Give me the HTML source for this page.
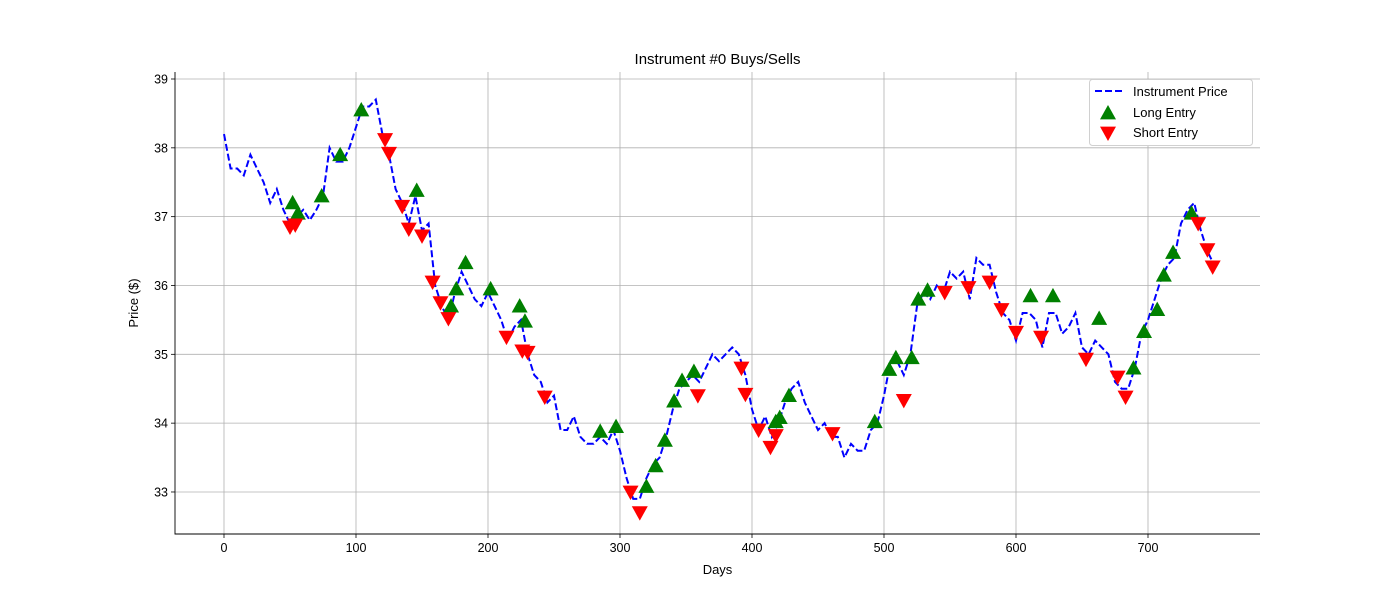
<!DOCTYPE html>
<html><head><meta charset="utf-8"><style>
body{margin:0;background:#fff;}
svg{display:block;font-family:"Liberation Sans","DejaVu Sans",sans-serif;}
</style></head><body>
<svg id="chart" width="1400" height="600"></svg>
<script>
const prices=[38.2,37.7,37.7,37.6,37.9,37.7,37.5,37.2,37.4,37.1,36.9,37.0,37.1,36.95,37.1,37.3,38.0,37.8,37.8,38.0,38.3,38.6,38.6,38.7,38.2,37.9,37.4,37.2,36.9,37.3,36.8,36.9,36.0,35.7,35.5,35.9,36.2,36.0,35.8,35.7,35.9,35.7,35.5,35.2,35.4,35.5,35.0,34.7,34.6,34.3,34.4,33.9,33.9,34.1,33.8,33.7,33.7,33.8,33.7,33.9,33.6,33.2,32.9,32.9,33.2,33.4,33.5,33.8,34.2,34.5,34.6,34.7,34.6,34.8,35.0,34.9,35.0,35.1,35.0,34.7,34.2,33.9,34.1,33.8,34.0,34.3,34.5,34.6,34.3,34.1,33.9,34.0,33.8,33.8,33.5,33.7,33.6,33.6,33.9,34.0,34.4,34.9,34.9,34.7,35.0,35.7,35.9,35.8,36.0,35.9,36.2,36.1,36.2,35.8,36.4,36.3,36.3,35.9,35.6,35.5,35.2,35.6,35.6,35.5,35.1,35.6,35.6,35.3,35.4,35.6,35.1,35.0,35.2,35.1,35.0,34.6,34.5,34.5,34.8,35.3,35.5,35.8,36.1,36.3,36.4,36.9,37.1,37.2,36.8,36.5,36.3];
const priceStep=5;
const longDays=[52,56,74,88,104,146,172,176,183,202,224,228,285,297,320,327,334,341,347,356,418,421,428,493,504,509,521,526,533,611,628,663,689,697,707,712,719,733];
const longPrices=[37.2,37.05,37.3,37.9,38.55,37.38,35.7,35.95,36.33,35.95,35.7,35.48,33.88,33.95,33.08,33.38,33.75,34.32,34.62,34.75,34.02,34.08,34.4,34.02,34.78,34.95,34.95,35.8,35.93,35.85,35.85,35.52,34.8,35.33,35.65,36.15,36.48,37.05];
const shortDays=[50,54,122,125,135,140,150,158,164,170,214,226,230,243,308,315,359,392,395,405,414,418,461,515,546,564,580,589,600,619,653,677,683,738,745,749];
const shortPrices=[36.85,36.88,38.12,37.92,37.15,36.82,36.72,36.05,35.75,35.52,35.25,35.05,35.03,34.38,33.0,32.7,34.4,34.8,34.42,33.9,33.65,33.82,33.85,34.33,35.9,35.97,36.05,35.65,35.32,35.25,34.93,34.67,34.38,36.9,36.52,36.27];
const xTicks=[0,100,200,300,400,500,600,700];
const yTicks=[33,34,35,36,37,38,39];

const NS="http://www.w3.org/2000/svg";
const svg=document.getElementById('chart');
const L=175,R=1260,T=72,B=534;
const xs=d=>224+d*1.32;
const ys=v=>79+(39-v)*68.83;
function mk(tag,attrs,parent){const e=document.createElementNS(NS,tag);for(const k in attrs)e.setAttribute(k,attrs[k]);(parent||svg).appendChild(e);return e;}

const grid=mk('g',{});


xTicks.forEach(t=>{
  mk('line',{x1:xs(t),x2:xs(t),y1:T,y2:B,stroke:'#b0b0b0','stroke-width':0.8},grid);
  mk('line',{x1:xs(t),x2:xs(t),y1:B,y2:B+4,stroke:'#000','stroke-width':0.8},grid);
  const tx=mk('text',{x:xs(t),y:B+18,'text-anchor':'middle','font-size':12.5},grid);
  
  
  tx.textContent=t;
});
yTicks.forEach(t=>{
  mk('line',{x1:L,x2:R,y1:ys(t),y2:ys(t),stroke:'#b0b0b0','stroke-width':0.8},grid);
  mk('line',{x1:L-4,x2:L,y1:ys(t),y2:ys(t),stroke:'#000','stroke-width':0.8},grid);
  const tx=mk('text',{x:L-7,y:ys(t)+4.5,'text-anchor':'end','font-size':12.5},grid);
  
  
  tx.textContent=t;
});
const ax=mk('path',{d:`M${L},${T}V${B}H${R}`,fill:'none',stroke:'#000','stroke-width':0.9});



const pts=prices.map((v,i)=>xs(i*priceStep).toFixed(1)+','+ys(v).toFixed(1)).join(' ');
const line=mk('polyline',{points:pts,fill:'none',stroke:'#0000ff','stroke-width':2,'stroke-dasharray':'7,3'});



function tri(x,y,up,color,parent){
  const s=8;
  const d=up?`M${x},${y-s}L${x+s},${y+s*0.8}L${x-s},${y+s*0.8}Z`:`M${x},${y+s}L${x+s},${y-s*0.8}L${x-s},${y-s*0.8}Z`;
  return mk('path',{d:d,fill:color},parent);
}
longDays.forEach((d,i)=>{const m=tri(xs(d),ys(longPrices[i]),true,'#008000');
  
  });
shortDays.forEach((d,i)=>{const m=tri(xs(d),ys(shortPrices[i]),false,'#ff0000');
  
  });

const title=mk('text',{x:(L+R)/2,y:64,'text-anchor':'middle','font-size':15});


title.textContent='Instrument #0 Buys/Sells';
const xl=mk('text',{x:(L+R)/2,y:574,'text-anchor':'middle','font-size':13});


xl.textContent='Days';
const yl=mk('text',{x:138,y:(T+B)/2,'text-anchor':'middle','font-size':13,transform:`rotate(-90 138 ${(T+B)/2})`});


yl.textContent='Price ($)';

const lg=mk('g',{});


mk('rect',{x:1089.5,y:79.5,width:163,height:66,rx:3,fill:'#fff',stroke:'#d0d0d0'},lg);
mk('line',{x1:1095,x2:1123,y1:91,y2:91,stroke:'#0000ff','stroke-width':2,'stroke-dasharray':'7,3'},lg);
tri(1108,113,true,'#008000',lg);
tri(1108,133,false,'#ff0000',lg);
[['Instrument Price',96],['Long Entry',117],['Short Entry',137]].forEach(([t,y])=>{
  const e=mk('text',{x:1133,y:y,'font-size':13},lg);
  
  
  e.textContent=t;
});
</script>
</body></html>
